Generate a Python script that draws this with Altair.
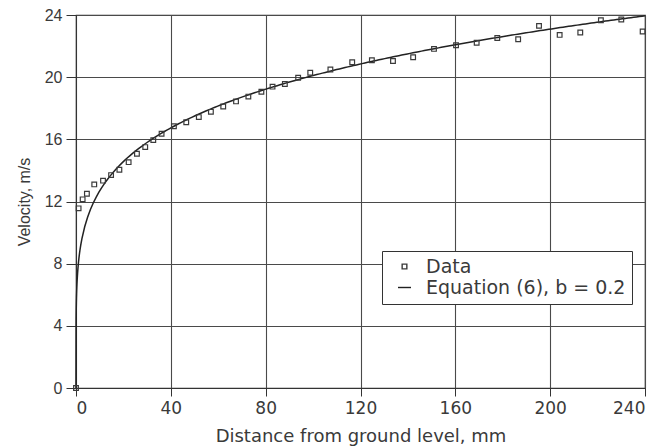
import altair as alt
import numpy as np
import pandas as pd

# Measured data (distance mm, velocity m/s)
data_x = [0, 1.1, 2.8, 4.6, 7.7, 11.4, 14.8, 18.3, 22.2, 25.7, 29.2, 32.6, 36.1,
          41.3, 46.5, 51.8, 56.9, 62.1, 67.5, 72.7, 78.2, 82.9, 88.1, 93.7, 98.8,
          107.3, 116.5, 124.8, 133.7, 142.2, 151.0, 160.3, 169.0, 177.7, 186.5,
          195.3, 204.0, 212.7, 221.4, 230.0, 239.0]
data_y = [0, 11.56, 12.14, 12.5, 13.1, 13.34, 13.7, 14.04, 14.53, 15.07, 15.5, 15.95, 16.36,
          16.84, 17.1, 17.43, 17.77, 18.11, 18.44, 18.75, 19.06, 19.39, 19.56, 19.96, 20.28,
          20.49, 20.96, 21.09, 21.04, 21.28, 21.82, 22.05, 22.21, 22.52, 22.44,
          23.3, 22.72, 22.87, 23.66, 23.71, 22.94]

# Equation (6): power law  v = U * (z / delta) ** b
U_ref = 23.95
delta = 240.0
b_exp = 0.2
curve_x = np.concatenate([np.linspace(0, 2, 41), np.linspace(2.5, 240, 200)])
curve_y = U_ref * (curve_x / delta) ** b_exp

series_names = ["Data", "Equation (6), b = 0.2"]
x_ticks = [0, 40, 80, 120, 160, 200, 240]
y_ticks = [0, 4, 8, 12, 16, 20, 24]

df_data = pd.DataFrame({"x": data_x, "y": data_y, "series": series_names[0]})
df_curve = pd.DataFrame({"x": curve_x, "y": curve_y, "series": series_names[1]})

PLOT_FONT = "DejaVu Sans"
SANS = "Liberation Sans"
TXT = "#3a3a3a"
INK = "#333333"

xscale = alt.Scale(domain=[0, 240], nice=False)
yscale = alt.Scale(domain=[0, 24], nice=False)

xaxis = alt.Axis(values=x_ticks, title="Distance from ground level, mm", grid=True,
                 tickSize=8, labelPadding=4, titlePadding=11,
                 labelFont=PLOT_FONT, labelFontSize=17, labelColor=TXT,
                 titleFont=PLOT_FONT, titleFontSize=18, titleColor=TXT, titleFontWeight="normal",
                 domainColor=INK, tickColor=INK, gridColor="#4a4a4a", gridWidth=1.1)
yaxis = alt.Axis(values=y_ticks, title="Velocity, m/s", grid=True,
                 tickSize=10, labelPadding=4, titlePadding=12,
                 labelFont=SANS, labelFontSize=16, labelColor=TXT,
                 titleFont=SANS, titleFontSize=16, titleColor=TXT, titleFontWeight="normal",
                 domainColor=INK, tickColor=INK, gridColor="#4a4a4a", gridWidth=1.1)

line = alt.Chart(df_curve).mark_line(color="#222222", strokeWidth=1.5).encode(
    x=alt.X("x:Q", scale=xscale, axis=xaxis),
    y=alt.Y("y:Q", scale=yscale, axis=yaxis),
)

legend = alt.Legend(title=None, orient="none", legendX=306, legendY=236,
                    strokeColor=INK, fillColor="white", padding=6,
                    labelFontSize=19, labelFont=PLOT_FONT, labelColor=TXT,
                    rowPadding=1, symbolStrokeWidth=1.4, labelOffset=12, symbolOffset=7,
                    symbolFillColor="white", labelLimit=400)

pts = alt.Chart(df_data).mark_point(filled=False, strokeWidth=1.2, opacity=1).encode(
    x="x:Q",
    y="y:Q",
    shape=alt.Shape("series:N", scale=alt.Scale(domain=series_names, range=["square", "stroke"]), legend=legend),
    size=alt.Size("series:N", scale=alt.Scale(domain=series_names, range=[22, 170]), legend=legend),
    color=alt.Color("series:N", scale=alt.Scale(domain=series_names, range=["#3a3a3a", "#222222"]), legend=legend),
)

chart = alt.layer(line, pts).properties(
    width=569, height=373,
    background="white",
    autosize=alt.AutoSizeParams(type="none"),
    padding={"left": 76, "top": 15, "right": 27, "bottom": 60},
).configure_view(stroke=INK, strokeWidth=1.2)

chart.save("out.html", embed_options={"renderer": "svg", "actions": False})
